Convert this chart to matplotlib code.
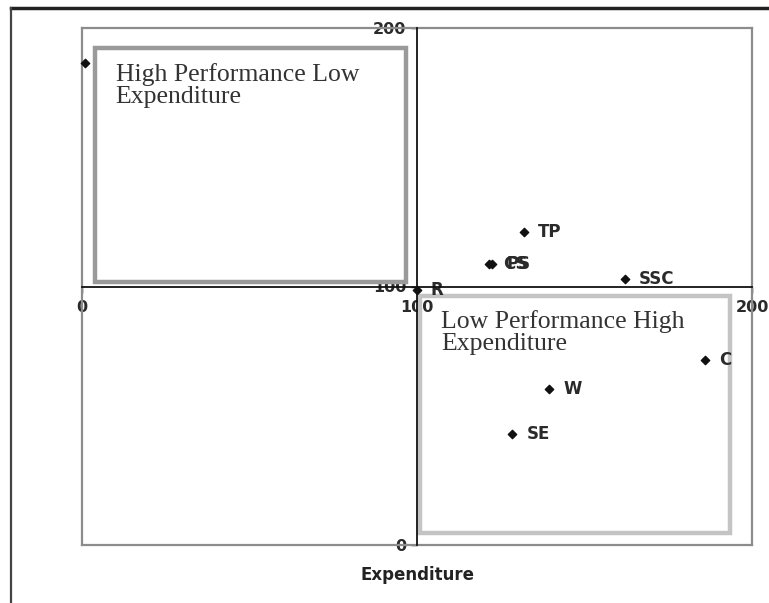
"""Квадрантная диаграмма: результативность против расходов"""

import matplotlib
matplotlib.use("Agg")
import matplotlib.pyplot as plt
from matplotlib.lines import Line2D
from matplotlib.patches import Rectangle

plt.rcParams['font.family'] = ['DejaVu Sans']

# данные
names = ["", "TP", "CS", "PS", "SSC", "R", "C", "W", "SE"]
expenditure = [1, 132, 121.5, 122.5, 162, 100, 186, 139.5, 128.5]
performance = [186.5, 121, 108.7, 108.7, 103, 98.6, 71.6, 60.3, 43]

x_ticks = [0, 100, 200]
y_ticks = [0, 100, 200]
box_texts = ["High Performance Low\nExpenditure", "Low Performance High\nExpenditure"]

fig = plt.figure(figsize=(7.69, 6.03), dpi=100)
ax = fig.add_axes([82 / 769, 1 - 545 / 603, 670 / 769, 517 / 603])
ax.set_xlim(0, 200)
ax.set_ylim(0, 200)

# оси пересекаются в точке (100, 100)
ax.spines['left'].set_position(('data', 100))
ax.spines['bottom'].set_position(('data', 100))
for side in ['left', 'bottom']:
    ax.spines[side].set_color('#111111')
    ax.spines[side].set_linewidth(1.3)
    ax.spines[side].set_zorder(4)
for side in ['top', 'right']:
    ax.spines[side].set_color('#8c8c8c')
    ax.spines[side].set_linewidth(1.6)
# левая и нижняя стороны рамки
ax.add_line(Line2D([0, 0], [0, 1], transform=ax.transAxes, color='#8c8c8c', lw=1.6, clip_on=False))
ax.add_line(Line2D([0, 1], [0, 0], transform=ax.transAxes, color='#8c8c8c', lw=1.6, clip_on=False))

ax.set_xticks(x_ticks)
ax.set_yticks(y_ticks)
ax.tick_params(axis='both', length=4, width=1, colors='#111111', labelsize=11.5)
ax.tick_params(axis='x', pad=6)
for lbl in ax.get_xticklabels() + ax.get_yticklabels():
    lbl.set_fontweight('bold')
    lbl.set_color('#2a2a2a')

ax.set_xlabel('Expenditure', fontsize=12, fontweight='bold', color='#222222')
ax.xaxis.set_label_coords(0.5, -0.04)

# точки и подписи
ax.scatter(expenditure, performance, marker='D', s=18, color='#111111', zorder=3, clip_on=False)
for name, xv, yv in zip(names, expenditure, performance):
    if name:
        ax.annotate(name, (xv, yv), xytext=(10, 0), textcoords='offset points',
                    va='center', ha='left', fontsize=12, fontweight='bold', color='#2a2a2a', zorder=3)

# рамки с подписями квадрантов
ax.add_patch(Rectangle((3.9, 101.7), 92.8, 90.6, facecolor='white', edgecolor='#9a9a9a', lw=3.2, zorder=2))
ax.add_patch(Rectangle((100.9, 4.6), 92.5, 91.7, facecolor='none', edgecolor='#c4c4c4', lw=3.2, zorder=2))
ax.text(10.0, 186.5, box_texts[0], family=['Liberation Serif', 'DejaVu Serif'], fontsize=18.5,
        color='#333333', va='top', ha='left', linespacing=1.0, zorder=3)
ax.text(107.3, 91.0, box_texts[1], family=['Liberation Serif', 'DejaVu Serif'], fontsize=18.5,
        color='#333333', va='top', ha='left', linespacing=1.0, zorder=3)

# внешняя рамка картинки
fig.add_artist(Line2D([11 / 769, 1], [1 - 8 / 603, 1 - 8 / 603], color='#222222', lw=2.5))
fig.add_artist(Line2D([11 / 769, 11 / 769], [0, 1 - 8 / 603], color='#444444', lw=1.6))

fig.savefig('out.png', dpi=100)
